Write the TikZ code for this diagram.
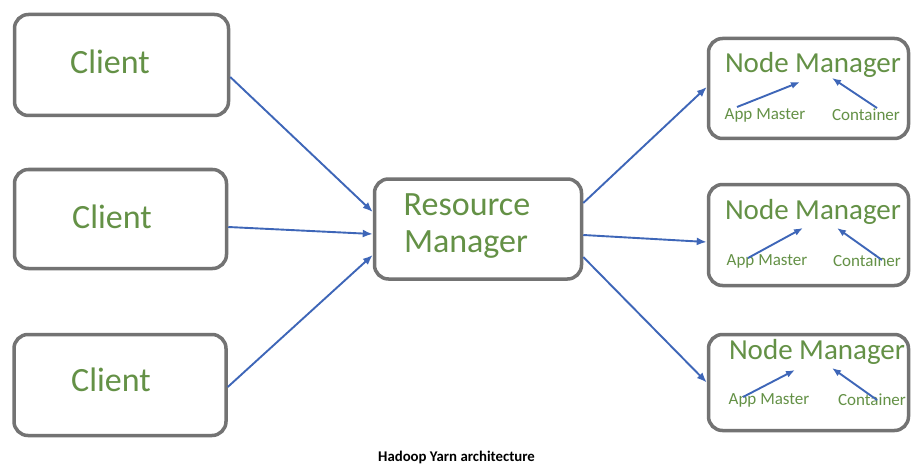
\documentclass[tikz,border=0pt]{standalone}
\usepackage{fontspec}
\setmainfont{Carlito}
\usetikzlibrary{arrows.meta}
\definecolor{txtgreen}{RGB}{100,145,70}
\definecolor{boxgray}{RGB}{115,115,115}
\definecolor{arrblue}{RGB}{62,102,184}
\tikzset{
  box/.style={draw=boxgray, line width=3.5pt, rounded corners=14pt, fill=white, inner sep=0pt},
  lbl/.style={text=txtgreen, inner sep=0pt, anchor=center},
  big/.style={lbl, font=\fontsize{34}{36}\selectfont},
  mid/.style={lbl, font=\fontsize{29}{31}\selectfont},
  small/.style={lbl, font=\fontsize{17}{19}\selectfont},
  conn/.style={draw=arrblue, line width=1.9pt, -{Latex[length=10pt,width=8pt]}},
  inner/.style={draw=arrblue, line width=1.9pt, -{Latex[length=9pt,width=7pt]}}
}
\begin{document}
\begin{tikzpicture}[x=1pt,y=-1pt]
\useasboundingbox (0,0) rectangle (913,468);
\fill[white] (0,0) rectangle (913,468);
% boxes
\node[box, minimum width=214pt, minimum height=101pt] (c1) at (121.5,65) {};
\node[box, minimum width=212pt, minimum height=99pt] (c2) at (120.5,219) {};
\node[box, minimum width=212pt, minimum height=101pt] (c3) at (120,385) {};
\node[box, minimum width=207pt, minimum height=100pt] (rm) at (478,229) {};
\node[box, minimum width=200pt, minimum height=100pt] (nm1) at (808.5,88.5) {};
\node[box, minimum width=200pt, minimum height=101pt] (nm2) at (808.5,235) {};
\node[box, minimum width=200pt, minimum height=96pt] (nm3) at (808.5,382.5) {};
% texts
\node[big] (t1) at (110,62) {Client};
\node[big] (t2) at (112,217) {Client};
\node[big] (t3) at (111,380) {Client};
\node[big] (r1) at (467,205) {Resource};
\node[big] (r2) at (466,245) {Manager};
\node[mid] (n1) at (813,65) {Node Manager};
\node[mid] (n2) at (813,212) {Node Manager};
\node[mid] (n3) at (817,352) {Node Manager};
\node[small] (am1) at (765,115) {App Master};
\node[small] (ct1) at (866,115) {Container};
\node[small] (am2) at (767,261) {App Master};
\node[small] (ct2) at (867,261) {Container};
\node[small] (am3) at (769,400) {App Master};
\node[small] (ct3) at (872,400) {Container};
% inner arrow ends
\coordinate (a1) at (800,82);
\coordinate (b1) at (832,78);
\coordinate (a2) at (803,228);
\coordinate (b2) at (837,228);
\coordinate (a3) at (795,370);
\coordinate (b3) at (832,368);
% connectors clients -> RM
\draw[conn] ([yshift=-12pt]c1.east) -- ([yshift=17pt]rm.west);
\draw[conn] ([yshift=-8pt]c2.east) -- ([yshift=-5pt]rm.west);
\draw[conn] ([yshift=-2pt]c3.east) -- ([yshift=-26pt]rm.west);
% RM -> node managers
\draw[conn] ([yshift=26pt]rm.east) -- ([yshift=1.5pt]nm1.west);
\draw[conn] ([yshift=-6pt]rm.east) -- ([yshift=-7pt]nm2.west);
\draw[conn] ([yshift=-28pt]rm.east) -- (nm3.west);
% inner arrows
\draw[inner] ([xshift=-28pt,yshift=8pt]am1.center) -- (a1);
\draw[inner] ([xshift=11pt,yshift=7pt]ct1.center) -- (b1);
\draw[inner] ([xshift=-19pt,yshift=3pt]am2.center) -- (a2);
\draw[inner] ([xshift=15pt,yshift=1pt]ct2.center) -- (b2);
\draw[inner] ([xshift=-26pt,yshift=3pt]am3.center) -- (a3);
\draw[inner] ([xshift=5pt,yshift=0pt]ct3.center) -- (b3);
% caption
\node[inner sep=0pt, font=\bfseries\fontsize{14.8}{16}\selectfont, text=black] (cap) at (456.5,457) {Hadoop Yarn architecture};
\end{tikzpicture}
\end{document}
